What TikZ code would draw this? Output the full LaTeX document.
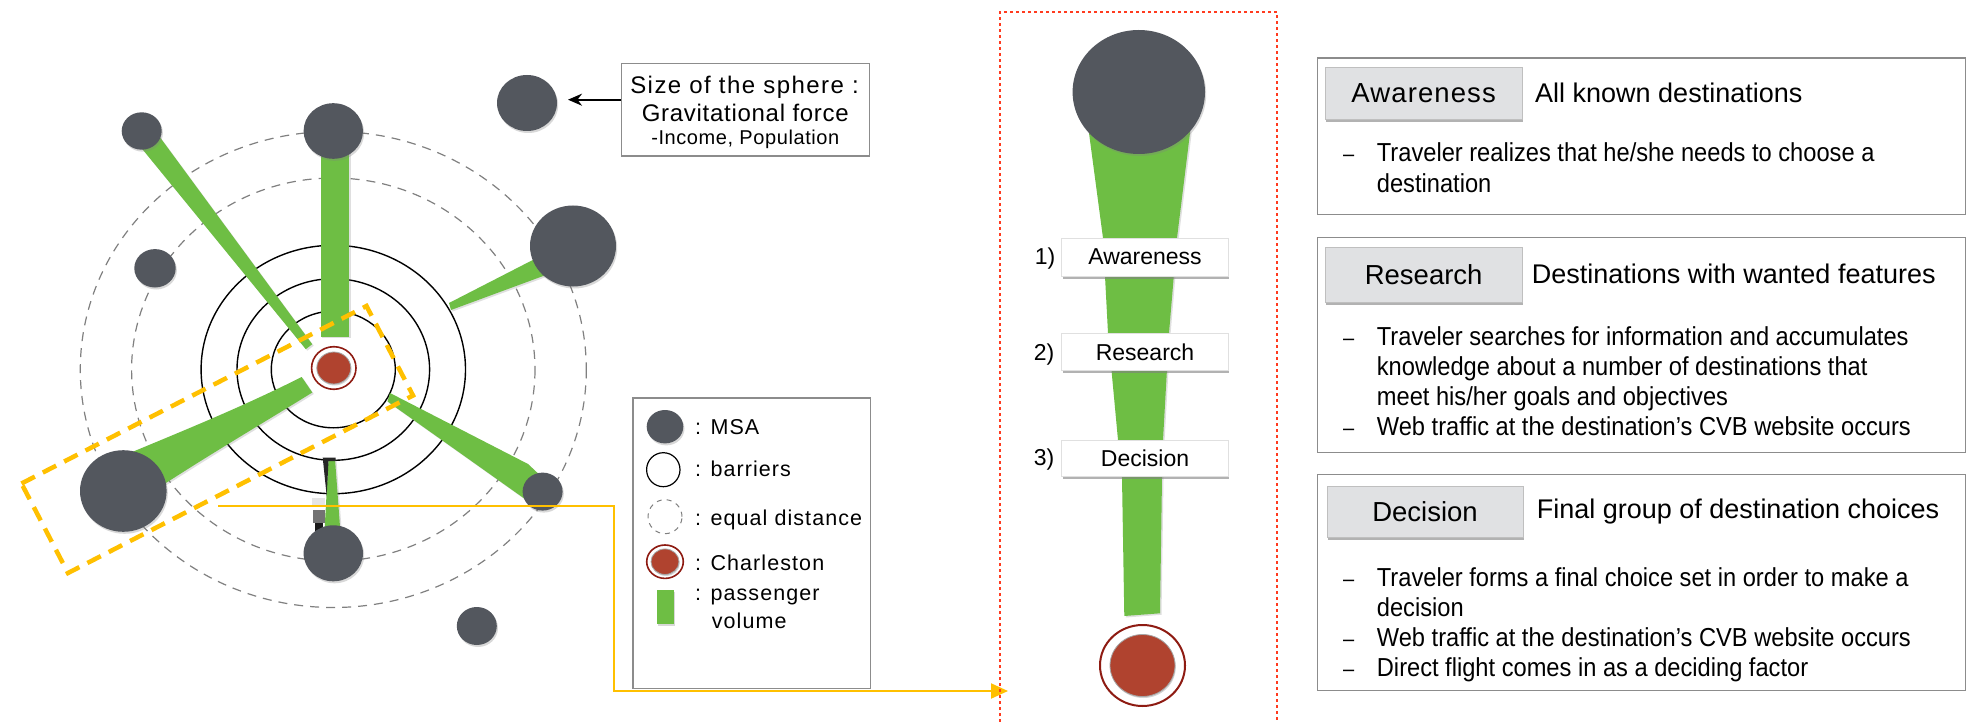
\documentclass[tikz,border=0pt]{standalone}
\usepackage{fontspec}
\setmainfont{Liberation Sans}
\newfontfamily\bodyf[FakeStretch=0.91]{Liberation Sans}
\newfontfamily\legf[LetterSpace=5]{Liberation Sans}
\newfontfamily\boxf[LetterSpace=3]{Liberation Sans}
\newfontfamily\boxwf[LetterSpace=6]{Liberation Sans}
\newfontfamily\hdrf[LetterSpace=4]{Liberation Sans}
\usetikzlibrary{shapes.geometric,shadows,arrows.meta}
\definecolor{msa}{HTML}{53575E}
\definecolor{vol}{HTML}{6EBE44}
\definecolor{chs}{HTML}{B0432F}
\definecolor{chringc}{HTML}{8E1B12}
\definecolor{ylw}{HTML}{FFC000}
\definecolor{dotred}{HTML}{FF3B1F}
\definecolor{boxgrey}{HTML}{8C8C8C}
\definecolor{hdr}{HTML}{E0E1E3}
\tikzset{
  msanode/.style={ellipse, fill=msa, inner sep=0pt, outer sep=0pt,
    drop shadow={shadow xshift=1.2pt, shadow yshift=-2pt, opacity=0.3}},
  volspoke/.style={fill=vol, drop shadow={shadow xshift=1.5pt, shadow yshift=-1.5pt, opacity=0.25}},
  eqdist/.style={draw=black!50, line width=1.2pt, dash pattern=on 9pt off 7pt},
  barrier/.style={draw=black, line width=1.4pt},
  chring/.style={ellipse, draw=chringc, line width=1.6pt, fill=white, inner sep=0pt},
  chcore/.style={ellipse, fill=chs, draw=black!35, line width=0.8pt, inner sep=0pt,
    drop shadow={shadow xshift=0.8pt, shadow yshift=-1.5pt, opacity=0.35}},
  framebox/.style={draw=boxgrey, line width=1.4pt, fill=white, inner sep=0pt},
  stepbox/.style={rectangle, fill=white, draw=black!12, line width=0.6pt, inner sep=0pt,
    drop shadow={shadow xshift=0.8pt, shadow yshift=-2.5pt, opacity=0.6},
    font=\fontsize{23}{26}\selectfont},
  hdrbox/.style={rectangle, fill=hdr, draw=black!25, line width=0.6pt, inner sep=0pt,
    drop shadow={shadow xshift=1pt, shadow yshift=-2.5pt, opacity=0.6},
    font=\fontsize{27.5}{30}\selectfont},
  ttl/.style={anchor=base west, inner sep=0pt, font=\fontsize{27}{30}\selectfont},
  bl/.style={anchor=base west, inner sep=0pt, font=\bodyf\fontsize{26}{30}\selectfont},
  dsh/.style={anchor=base west, inner sep=0pt, font=\bodyf\fontsize{22}{30}\selectfont},
  lg/.style={anchor=base west, inner sep=0pt, font=\legf\fontsize{21.5}{25}\selectfont},
  sz/.style={anchor=base, inner sep=0pt, font=\boxf\fontsize{24}{26}\selectfont},
  steplbl/.style={anchor=base, inner sep=0pt, font=\fontsize{23}{26}\selectfont},
}
\begin{document}
\begin{tikzpicture}[x=1pt,y=-1pt]
\useasboundingbox (0,0) rectangle (1976,722);
\fill[white] (0,0) rectangle (1976,722);

% ---------- left diagram ----------
\draw[eqdist] (333.3,369.5) ellipse [x radius=253, y radius=238];
\draw[eqdist] (333.3,369.5) ellipse [x radius=201.7, y radius=191.5];
\draw[barrier] (333.3,369.5) ellipse [x radius=62, y radius=58.3];
\draw[barrier] (333.3,369.5) ellipse [x radius=96.3, y radius=90.8];
\draw[barrier] (333.3,369.5) ellipse [x radius=132.2, y radius=124.2];

% passenger volume spokes
\fill[volspoke] (150.4,124.3) -- (312.2,344.2) -- (305.8,349.2) -- (133,137.7) -- cycle;
\fill[volspoke] (320.7,131) rectangle (349.3,336.7);
\fill[volspoke] (449,303) -- (560,246) -- (573,265) -- (451,310) -- cycle;
\fill[volspoke] (301.7,377) .. controls (240,408) and (180,432) .. (125,455) -- (140,500) .. controls (200,460) and (260,425) .. (312.3,392.5) -- cycle;
\fill[volspoke] (390,393) -- (528,464) -- (545,480) -- (532,504) -- (387.5,401.5) -- cycle;
\fill[volspoke] (328.5,459) -- (335,459) -- (341,540) -- (324,540) -- cycle;
\fill[black!85] (322.7,457.5) -- (335.5,457.5) -- (335.5,461) -- (328.5,461) -- (326.7,496) -- cycle;
\fill[black!10] (311.7,498.3) rectangle (325,506.7);
\fill[black!55] (313.3,510) rectangle (325,523.3);
\fill[black!90] (315,523.3) rectangle (323.3,533.3);

% MSAs
\node[msanode, minimum width=40, minimum height=37.4] (m1) at (141.7,131) {};
\node[msanode, minimum width=59.4, minimum height=55.6] (m2) at (333.3,131) {};
\node[msanode, minimum width=60, minimum height=56] (m3) at (527,103) {};
\node[msanode, minimum width=41.4, minimum height=38.4] (m4) at (155,268.3) {};
\node[msanode, minimum width=86, minimum height=81] (m5) at (573,246) {};
\node[msanode, minimum width=86.6, minimum height=81.6] (m6) at (123.3,491) {};
\node[msanode, minimum width=40, minimum height=38] (m7) at (542.6,491.6) {};
\node[msanode, minimum width=59.4, minimum height=56] (m8) at (333.3,553.3) {};
\node[msanode, minimum width=40, minimum height=38] (m9) at (476.8,626) {};

% Charleston
\node[chring, minimum width=44.4, minimum height=42.6] (ch) at (333.8,368) {};
\node[chcore, minimum width=34, minimum height=32] (chc) at (333.8,368) {};

% yellow selection
\draw[ylw, line width=4.5pt, dash pattern=on 15pt off 9pt] (21.5,483.5) -- (366.5,306) -- (413,395.5) -- (68,573) -- cycle;
\coordinate (ystart) at (218.3,506);
\coordinate (ybend) at (614.3,691);
\coordinate (yend) at (1008,691);
\draw[ylw, line width=2pt, -{Triangle[length=17pt,width=15pt]}] (ystart) -| (ybend) -- (yend);

% size box
\node[framebox, minimum width=247.6, minimum height=92.7] (sizebox) at (745.5,109.7) {};
\node[sz, font=\boxwf\fontsize{24}{26}\selectfont] (sz1) at (744.5,93.3) {Size of the sphere :};
\node[sz] (sz2) at (745.3,121.7) {Gravitational force};
\node[sz, font=\boxf\fontsize{20}{22}\selectfont] (sz3) at (745.3,144.3) {-Income, Population};
\coordinate (arrS) at ([yshift=10pt]sizebox.west);
\draw[line width=2.2pt, -{Stealth[length=14pt,width=12pt]}, shorten >=11pt] (arrS) -- (arrS -| m3.east);

% legend
\node[framebox, minimum width=237.7, minimum height=290.7, anchor=north west] (legend) at (632.3,397.3) {};
\node[msanode, minimum width=36.6, minimum height=33.4] (lmsa) at (665,426.7) {};
\node[ellipse, draw=black, line width=1.2pt, minimum width=33.4, minimum height=34, inner sep=0pt] (lbar) at (663.3,469.7) {};
\node[ellipse, draw=black!50, line width=1pt, dash pattern=on 5pt off 5pt, minimum width=34, minimum height=34, inner sep=0pt] (leq) at (665,516.7) {};
\node[chring, minimum width=36.6, minimum height=33.4] (lch) at (665,561.7) {};
\node[chcore, minimum width=28, minimum height=25.5] (lchc) at (665,561.7) {};
\node[fill=vol, minimum width=17.6, minimum height=34, inner sep=0pt,
  drop shadow={shadow xshift=1pt, shadow yshift=-1.5pt, opacity=0.3}] (lvol) at (665.5,607) {};
\node[lg] (lt1) at (695,434.3) {: MSA};
\node[lg] (lt2) at (695,476.7) {: barriers};
\node[lg] (lt3) at (695,525) {: equal distance};
\node[lg] (lt4) at (695,570) {: Charleston};
\node[lg] (lt5) at (695,600) {: passenger};
\node[lg] (lt6) at (711.7,628.3) {volume};

% ---------- funnel panel ----------
\draw[dotred, line width=2pt, dash pattern=on 3pt off 3pt] (1000,740) -- (1000,12.3) -- (1277.3,12.3) -- (1277.3,740);
\fill[volspoke] (1092,100) -- (1089,133) -- (1103,238) -- (1108,333) -- (1118,440) -- (1122,478) -- (1124.3,616) -- (1160,613.3) -- (1162,478) -- (1163,440) -- (1169,333) -- (1177,238) -- (1190,133) -- (1186,100) -- cycle;
\node[msanode, minimum width=132.4, minimum height=124] (ftop) at (1138.8,92) {};
\node[stepbox, minimum width=166.6, minimum height=37.7] (s1) at (1145,257.2) {Awareness};
\node[stepbox, minimum width=166.6, minimum height=37.4] (s2) at (1145,352) {Research};
\node[stepbox, minimum width=166.6, minimum height=36.7] (s3) at (1145,458.3) {Decision};
\node[steplbl] (n1) at (1045,265) {1)};
\node[steplbl] (n2) at (1044,360) {2)};
\node[steplbl] (n3) at (1044,465) {3)};
\node[chring, line width=2pt, minimum width=85, minimum height=81] (fch) at (1142.5,665.5) {};
\node[chcore, minimum width=65, minimum height=62] (fchc) at (1142.5,665.5) {};

% ---------- right boxes ----------
\node[framebox, minimum width=648.3, minimum height=156.7, anchor=north west] (b1) at (1316.7,57.3) {};
\node[framebox, minimum width=648.3, minimum height=215, anchor=north west] (b2) at (1316.7,236.7) {};
\node[framebox, minimum width=648.3, minimum height=216, anchor=north west] (b3) at (1316.7,474) {};

\node[hdrbox, font=\hdrf\fontsize{27.5}{30}\selectfont, minimum width=196.7, minimum height=52, anchor=north west] (h1) at (1325,67.3) {Awareness};
\node[hdrbox, minimum width=196.7, minimum height=54.4, anchor=north west] (h2) at (1325,247.3) {Research};
\node[hdrbox, minimum width=196, minimum height=51, anchor=north west] (h3) at (1326.7,485.7) {Decision};

\node[ttl] (t1) at (1535,102.7) {All known destinations};
\node[ttl] (t2) at (1531.7,283.3) {Destinations with wanted features};
\node[ttl] (t3) at (1536.7,518.3) {Final group of destination choices};

\node[dsh] (d11) at (1343,161.7) {–};
\node[bl] (a11) at (1376.7,161.7) {Traveler realizes that he/she needs to choose a};
\node[bl] (a12) at (1376.7,192.7) {destination};

\node[dsh] (d21) at (1343,345) {–};
\node[bl] (a21) at (1376.7,345) {Traveler searches for information and accumulates};
\node[bl] (a22) at (1376.7,375) {knowledge about a number of destinations that};
\node[bl] (a23) at (1376.7,405) {meet his/her goals and objectives};
\node[dsh] (d24) at (1343,435) {–};
\node[bl] (a24) at (1376.7,435) {Web traffic at the destination’s CVB website occurs};

\node[dsh] (d31) at (1343,586.7) {–};
\node[bl] (a31) at (1376.7,586.7) {Traveler forms a final choice set in order to make a};
\node[bl] (a32) at (1376.7,616.7) {decision};
\node[dsh] (d33) at (1343,646.7) {–};
\node[bl] (a33) at (1376.7,646.7) {Web traffic at the destination’s CVB website occurs};
\node[dsh] (d34) at (1343,676.7) {–};
\node[bl] (a34) at (1376.7,676.7) {Direct flight comes in as a deciding factor};
\end{tikzpicture}
\end{document}
